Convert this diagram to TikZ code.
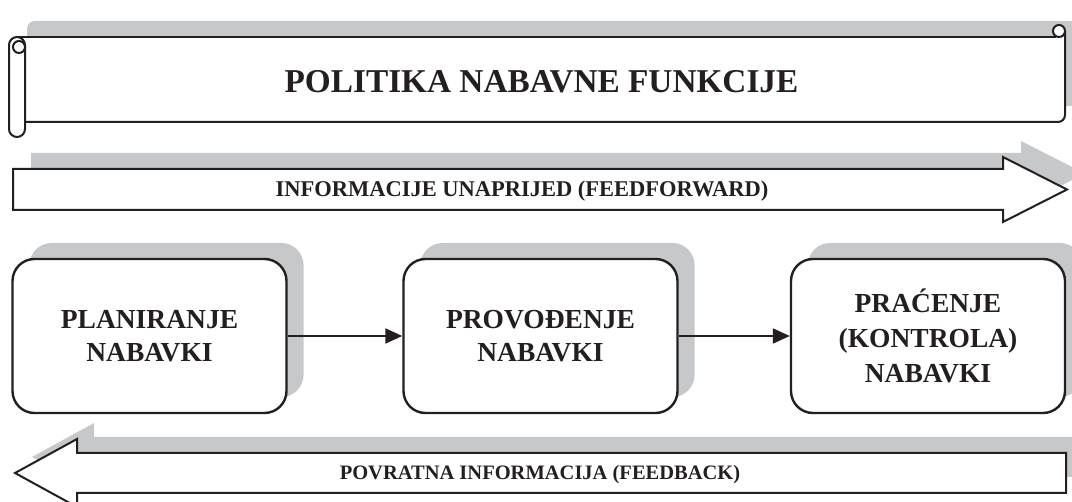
\documentclass[tikz,border=0pt]{standalone}
\usepackage{fontspec}
\setmainfont{Liberation Serif}
\usetikzlibrary{arrows.meta,shadows}
\definecolor{ink}{HTML}{231F20}
\definecolor{shadowgrey}{HTML}{C7C8CA}
\begin{document}
\begin{tikzpicture}[x=1pt,y=-1pt,
  scrollline/.style={draw=ink, line width=2pt},
  bigarrow/.style={draw=ink, line width=2pt, fill=white, line join=miter},
  stage/.style={draw=ink, line width=2.4pt, rounded corners=22pt, fill=white,
    minimum width=274pt, minimum height=154pt, align=center, inner sep=0pt,
    text=ink, font=\fontsize{27.5}{33}\selectfont\bfseries},
  conn/.style={draw=ink, line width=2pt, -{Triangle[length=17pt,width=15pt]}},
  arrowlabel/.style={anchor=base, text=ink, font=\fontsize{21}{25}\selectfont\bfseries},
  shadowA/.style={drop shadow={shadow xshift=18pt, shadow yshift=16pt, fill=shadowgrey, opacity=1}},
  shadowB/.style={drop shadow={shadow xshift=17pt, shadow yshift=16pt, fill=shadowgrey, opacity=1}}]
\clip (0,0) rectangle (1072,502);

% scroll
\fill[shadowgrey, rounded corners=8pt] (27,21) rectangle (1078,106);
\fill[white] (25,37) rectangle (1065,122);
\draw[scrollline] (17,37) -- (1056,37);
\draw[scrollline, rounded corners=7pt] (1065,31) -- (1065,122) -- (25,122);
\draw[scrollline, fill=white, rounded corners=8pt] (9,37) rectangle (25,137);
\draw[scrollline, fill=white] (19,47) circle (6pt);
\draw[scrollline, fill=white] (1059,31) circle (6pt);
\draw[scrollline] (1055,37) -- (1055,35);
\node[anchor=base, text=ink, font=\fontsize{33.3}{40}\selectfont\bfseries] (title) at (541.5,93) {POLITIKA NABAVNE FUNKCIJE};

% feedforward arrow
\draw[bigarrow, shadowA] (13,169) -- (1003,169) -- (1003,157) -- (1067,189.5) -- (1003,222) -- (1003,210) -- (13,210) -- cycle;
\node[arrowlabel, font=\fontsize{22.5}{26}\selectfont\bfseries] (fftext) at (522,197) {INFORMACIJE UNAPRIJED (FEEDFORWARD)};

% stages
\node[stage, shadowB] (plan) at (149.5,336) {PLANIRANJE\\NABAVKI};
\node[stage, shadowB] (prov) at (540.5,336) {PROVOĐENJE\\NABAVKI};
\node[stage, shadowB, font=\fontsize{27.5}{35}\selectfont\bfseries] (prac) at (928,336) {PRAĆENJE\\(KONTROLA)\\NABAVKI};
\draw[conn] (plan) -- (prov);
\draw[conn] (prov) -- (prac);

% feedback arrow
\draw[bigarrow, shadowB] (1066,453) -- (77,453) -- (77,439) -- (15,473) -- (77,507) -- (77,493) -- (1066,493) -- cycle;
\node[arrowlabel, font=\fontsize{20.5}{25}\selectfont\bfseries] (fbtext) at (540,480) {POVRATNA INFORMACIJA (FEEDBACK)};
\end{tikzpicture}
\end{document}
